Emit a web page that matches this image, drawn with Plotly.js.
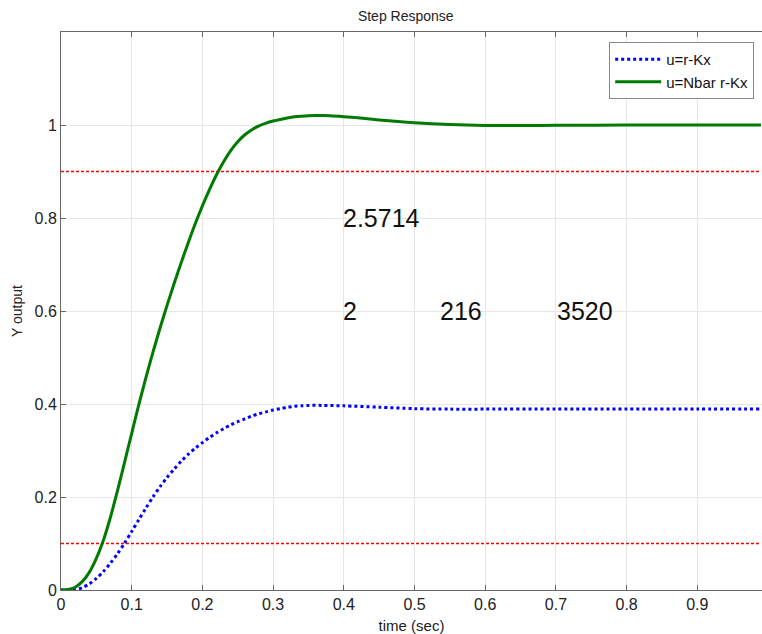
<!DOCTYPE html>
<html>
<head>
<meta charset="utf-8">
<script src="https://cdn.plot.ly/plotly-3.0.1.min.js"></script>
<style>html,body{margin:0;padding:0;background:#fff;}#chart{width:762px;height:634px;}</style>
</head>
<body>
<div id="chart"></div>
<script>
// time samples (sec) and outputs
var tGreen = [0,0.01,0.02,0.03,0.04,0.05,0.06,0.07,0.08,0.09,0.10,0.11,0.12,0.13,0.14,0.15,0.16,0.17,0.18,0.19,0.20,0.21,0.22,0.23,0.24,0.25,0.26,0.27,0.28,0.29,0.30,0.31,0.32,0.33,0.34,0.35,0.36,0.37,0.38,0.40,0.42,0.45,0.50,0.55,0.60,0.65,0.70,0.80,0.90,0.99];
var yGreen = [0,0.001,0.006,0.018,0.038,0.068,0.107,0.157,0.214,0.275,0.337,0.398,0.456,0.511,0.563,0.612,0.659,0.704,0.747,0.788,0.826,0.861,0.893,0.921,0.945,0.964,0.979,0.990,0.998,1.004,1.0085,1.012,1.015,1.0175,1.019,1.020,1.0205,1.0205,1.020,1.018,1.0155,1.011,1.005,1.001,0.999,0.9988,0.9993,1.000,1.000,1.000];

var tBlue = [0,0.01,0.02,0.03,0.04,0.05,0.06,0.07,0.08,0.09,0.10,0.11,0.12,0.13,0.14,0.15,0.16,0.17,0.18,0.19,0.20,0.21,0.22,0.23,0.24,0.25,0.26,0.27,0.28,0.29,0.30,0.31,0.32,0.33,0.34,0.35,0.37,0.40,0.45,0.50,0.55,0.60,0.70,0.80,0.90,0.99];
var yBlue = [0,0,0.001,0.005,0.013,0.025,0.040,0.058,0.078,0.101,0.126,0.151,0.176,0.200,0.222,0.242,0.260,0.277,0.292,0.305,0.317,0.328,0.338,0.347,0.355,0.362,0.368,0.374,0.379,0.383,0.387,0.390,0.393,0.395,0.396,0.397,0.397,0.396,0.393,0.390,0.389,0.389,0.389,0.389,0.389,0.389];

var seriesNames = ['u=r-Kx', 'u=Nbar r-Kx'];
var refLevels = [0.1, 0.9];
var refRange = [0, 0.99];
var labelTexts = ['2.5714', '2', '216', '3520'];
var labelX = [0.397, 0.397, 0.534, 0.700];
var labelY = [0.8, 0.6, 0.6, 0.6];
var xTicks = [0,0.1,0.2,0.3,0.4,0.5,0.6,0.7,0.8,0.9];
var yTicks = [0,0.2,0.4,0.6,0.8,1];

var FONT = 'Arial, "Liberation Sans", sans-serif';

var traces = [];
refLevels.forEach(function(lv){
  traces.push({x: refRange, y: [lv, lv], mode: 'lines', showlegend: false, hoverinfo: 'skip',
    line: {color: '#ff0000', width: 1.3, dash: '3px,2px'}});
});
traces.push({x: tBlue, y: yBlue, name: seriesNames[0], mode: 'lines',
  line: {color: '#0000ff', width: 3, dash: 'dot', shape: 'spline', smoothing: 0.8}});
traces.push({x: tGreen, y: yGreen, name: seriesNames[1], mode: 'lines',
  line: {color: '#007a00', width: 3, shape: 'spline', smoothing: 0.8}});

var annotations = labelTexts.map(function(t, i){
  return {x: labelX[i], y: labelY[i], xref: 'x', yref: 'y', text: t, showarrow: false, borderpad: 0,
    xanchor: 'left', yanchor: 'middle', font: {family: FONT, size: 25, color: '#111'}};
});

var layout = {
  width: 762, height: 634,
  margin: {l: 61, r: 0, t: 32, b: 44, pad: 0},
  paper_bgcolor: '#fff', plot_bgcolor: '#fff',
  font: {family: FONT, size: 14, color: '#222'},
  title: {text: 'Step Response', font: {family: FONT, size: 14, color: '#222'}, x: 0.5325, xanchor: 'center', y: 0.975, yanchor: 'middle'},
  xaxis: {range: [0, 0.9915], tickvals: xTicks, ticktext: xTicks.map(String), ticks: 'inside', ticklen: 5, tickcolor: '#666',
    showline: true, linecolor: '#666', linewidth: 1, mirror: 'ticks', showgrid: true, gridcolor: '#e6e6e6', zeroline: false,
    tickfont: {family: FONT, size: 16, color: '#222'},
    title: {text: 'time (sec)', font: {family: FONT, size: 15, color: '#222'}, standoff: 8}},
  yaxis: {range: [0, 1.2], tickvals: yTicks, ticktext: yTicks.map(String), ticks: 'inside', ticklen: 5, tickcolor: '#666',
    showline: true, linecolor: '#666', linewidth: 1, showgrid: true, gridcolor: '#e6e6e6', zeroline: false,
    tickfont: {family: FONT, size: 16, color: '#222'},
    title: {text: 'Y output', font: {family: FONT, size: 14, color: '#222'}, standoff: 8}},
  legend: {x: 0.782, y: 0.982, xanchor: 'left', yanchor: 'top', bgcolor: '#fff', bordercolor: '#888', borderwidth: 1,
    font: {family: FONT, size: 15, color: '#111'}, itemwidth: 46, tracegroupgap: 0},
  annotations: annotations,
  showlegend: true
};

Plotly.newPlot('chart', traces, layout, {staticPlot: true, displayModeBar: false});
</script>
</body>
</html>
